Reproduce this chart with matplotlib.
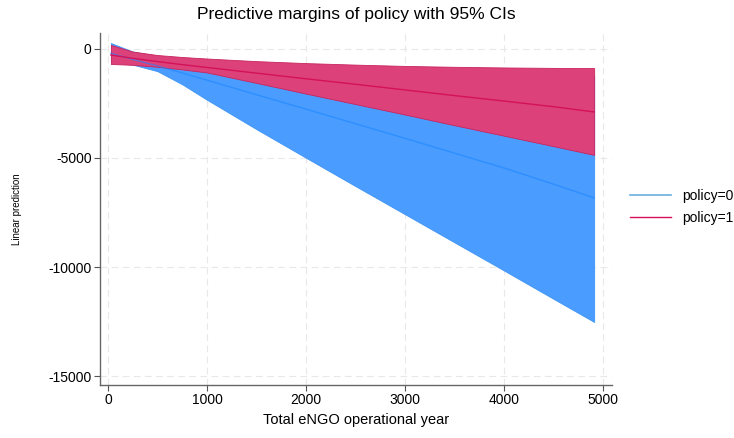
import matplotlib
matplotlib.use("Agg")
import matplotlib.pyplot as plt
from matplotlib.lines import Line2D

plt.rcParams['font.family'] = ['Liberation Sans', 'DejaVu Sans']

# Data
years = [30, 250, 500, 750, 1000, 1500, 2000, 2500, 3000, 3500, 4000, 4500, 4910]

p0_mean = [-200, -480, -780, -1100, -1430, -2100, -2760, -3430, -4100, -4780, -5460, -6200, -6830]
p0_lo = [-600, -720, -1020, -1620, -2330, -3680, -4990, -6290, -7580, -8870, -10160, -11460, -12520]
p0_hi = [270, -120, -330, -460, -560, -700, -820, -900, -980, -1050, -1110, -1170, -1230]

p1_mean = [-280, -430, -580, -720, -850, -1110, -1370, -1620, -1880, -2140, -2390, -2650, -2890]
p1_lo = [-690, -730, -820, -940, -1080, -1560, -2050, -2530, -3010, -3500, -3980, -4460, -4860]
p1_hi = [180, -120, -280, -370, -440, -560, -650, -720, -780, -820, -850, -870, -880]

labels = ['policy=0', 'policy=1']
xticks = [0, 1000, 2000, 3000, 4000, 5000]
yticks = [0, -5000, -10000, -15000]

blue = '#1a85ff'
red = '#d41159'
blue_fill = '#4a9dff'
red_fill = '#dd4179'

fig = plt.figure(figsize=(7.34, 4.38), dpi=100)
ax = fig.add_axes([100/734, 1-385/438, 512/734, 352/438])

ax.fill_between(years, p0_lo, p0_hi, color=blue_fill, lw=0.6, edgecolor='#3d93f5', zorder=2)
ax.fill_between(years, p1_lo, p1_hi, color=red_fill, lw=0.6, edgecolor='#c8245e', zorder=3)
ax.plot(years, p0_mean, color=blue, lw=1.0, alpha=0.6, zorder=4)
ax.plot(years, p1_mean, color=red, lw=1.0, zorder=5)

ax.set_xlim(-80, 5090)
ax.set_ylim(-15410, 730)
ax.set_xticks(xticks)
ax.set_yticks(yticks)
ax.set_yticklabels([str(v) for v in yticks])
ax.tick_params(axis='both', labelsize=10, length=4, width=0.8, color='#555555', pad=2)

ax.grid(True, color='#e8e8e8', linestyle=(0, (6, 4)), lw=0.8, zorder=0)
ax.set_axisbelow(True)
for s in ['top', 'right']:
    ax.spines[s].set_visible(False)
for s in ['left', 'bottom']:
    ax.spines[s].set_color('#666666')
    ax.spines[s].set_linewidth(1.0)

ax.set_title('Predictive margins of policy with 95% CIs', fontsize=12.5, pad=10)
ax.set_xlabel('Total eNGO operational year', fontsize=10.5, labelpad=4)
ax.set_ylabel('Linear prediction', fontsize=7, labelpad=19)

handles = [Line2D([0], [0], color='#6aaee0', lw=1.2),
           Line2D([0], [0], color=red, lw=1.0)]
fig.legend(handles, labels, loc='center left', bbox_to_anchor=(617/734, 1-207/438),
           frameon=False, fontsize=10, handlelength=3.0, handletextpad=0.8, labelspacing=0.55)

fig.savefig('out.png', dpi=100)
